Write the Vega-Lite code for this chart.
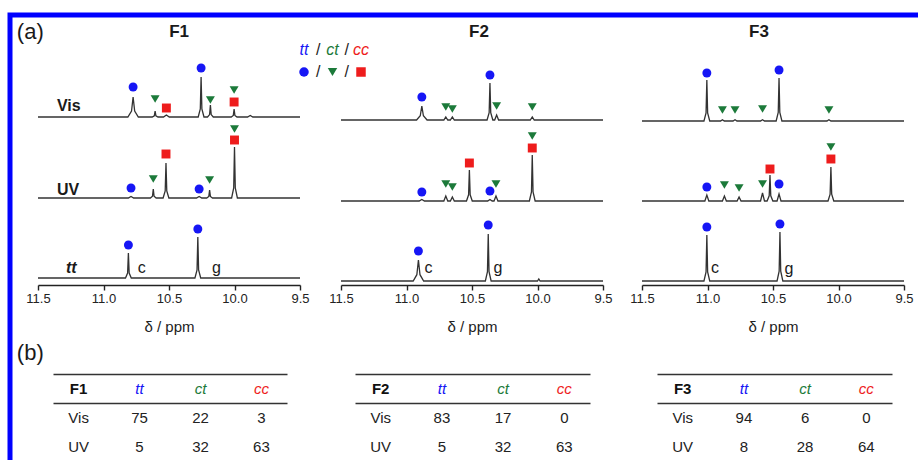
{
"$schema": "https://vega.github.io/schema/vega-lite/v6.json",
"width": 920, "height": 460,
"autosize": {"type": "none"},
"padding": {"left": 10, "top": 15, "right": 0, "bottom": 0},
"background": "white",
"config": {"view": {"stroke": "#0000ff", "strokeWidth": 5}, "font": "Liberation Sans"},
"datasets": {
"s_F1_Vis": [{"x":11.5,"i":0},{"x":10.814,"i":0},{"x":10.786,"i":6},{"x":10.774,"i":20},{"x":10.762,"i":6},{"x":10.734,"i":0},{"x":10.628,"i":0},{"x":10.612,"i":1.2},{"x":10.606,"i":6},{"x":10.6,"i":1.2},{"x":10.584,"i":0},{"x":10.542,"i":0},{"x":10.52,"i":2},{"x":10.498,"i":0},{"x":10.277,"i":0},{"x":10.261,"i":8},{"x":10.255,"i":40},{"x":10.249,"i":8},{"x":10.233,"i":0},{"x":10.206,"i":0},{"x":10.19,"i":2.4},{"x":10.184,"i":12},{"x":10.178,"i":2.4},{"x":10.162,"i":0},{"x":10.025,"i":0},{"x":10.009,"i":1.6},{"x":10.003,"i":8},{"x":9.997,"i":1.6},{"x":9.981,"i":0},{"x":9.9,"i":0},{"x":9.88,"i":1.5},{"x":9.86,"i":0},{"x":9.5,"i":0}],
"m_F1_Vis": [{"x":10.774,"i":30,"s":"tt"},{"x":10.606,"i":18,"s":"ct"},{"x":10.52,"i":9,"s":"cc"},{"x":10.255,"i":49,"s":"tt"},{"x":10.184,"i":17,"s":"ct"},{"x":10.003,"i":27,"s":"ct"},{"x":10.003,"i":15,"s":"cc"}],
"s_F1_UV": [{"x":11.5,"i":0},{"x":10.81,"i":0},{"x":10.79,"i":1.5},{"x":10.77,"i":0},{"x":10.642,"i":0},{"x":10.626,"i":1.8},{"x":10.62,"i":9},{"x":10.614,"i":1.8},{"x":10.598,"i":0},{"x":10.545,"i":0},{"x":10.529,"i":7},{"x":10.523,"i":35},{"x":10.517,"i":7},{"x":10.501,"i":0},{"x":10.29,"i":0},{"x":10.27,"i":1.5},{"x":10.25,"i":0},{"x":10.212,"i":0},{"x":10.196,"i":1.6},{"x":10.19,"i":8},{"x":10.184,"i":1.6},{"x":10.168,"i":0},{"x":10.022,"i":0},{"x":10.006,"i":10},{"x":10.0,"i":51},{"x":9.994,"i":10},{"x":9.978,"i":0},{"x":9.5,"i":0}],
"m_F1_UV": [{"x":10.79,"i":10,"s":"tt"},{"x":10.62,"i":19,"s":"ct"},{"x":10.523,"i":44,"s":"cc"},{"x":10.27,"i":9,"s":"tt"},{"x":10.19,"i":18,"s":"ct"},{"x":10.0,"i":58,"s":"cc"},{"x":10.0,"i":69,"s":"ct"}],
"s_F1_tt": [{"x":11.5,"i":0},{"x":10.832,"i":0},{"x":10.816,"i":5},{"x":10.81,"i":25},{"x":10.804,"i":5},{"x":10.788,"i":0},{"x":10.302,"i":0},{"x":10.286,"i":8},{"x":10.28,"i":41},{"x":10.274,"i":8},{"x":10.258,"i":0},{"x":9.5,"i":0}],
"m_F1_tt": [{"x":10.81,"i":33,"s":"tt"},{"x":10.28,"i":49,"s":"tt"}],
"s_F2_Vis": [{"x":11.5,"i":0},{"x":10.923,"i":0},{"x":10.895,"i":4.2},{"x":10.883,"i":14},{"x":10.871,"i":4.2},{"x":10.843,"i":0},{"x":10.715,"i":0},{"x":10.7,"i":3},{"x":10.685,"i":0},{"x":10.665,"i":0},{"x":10.65,"i":3},{"x":10.635,"i":0},{"x":10.385,"i":0},{"x":10.369,"i":7.4},{"x":10.363,"i":37},{"x":10.357,"i":7.4},{"x":10.341,"i":0},{"x":10.327,"i":0},{"x":10.312,"i":5},{"x":10.297,"i":0},{"x":10.055,"i":0},{"x":10.04,"i":3},{"x":10.025,"i":0},{"x":9.5,"i":0}],
"m_F2_Vis": [{"x":10.883,"i":23,"s":"tt"},{"x":10.7,"i":13,"s":"ct"},{"x":10.65,"i":11,"s":"ct"},{"x":10.363,"i":45,"s":"tt"},{"x":10.312,"i":14,"s":"ct"},{"x":10.04,"i":13,"s":"ct"}],
"s_F2_UV": [{"x":11.5,"i":0},{"x":10.903,"i":0},{"x":10.883,"i":1.5},{"x":10.863,"i":0},{"x":10.715,"i":0},{"x":10.7,"i":5},{"x":10.685,"i":0},{"x":10.665,"i":0},{"x":10.65,"i":4},{"x":10.635,"i":0},{"x":10.542,"i":0},{"x":10.526,"i":6.2},{"x":10.52,"i":31},{"x":10.514,"i":6.2},{"x":10.498,"i":0},{"x":10.38,"i":0},{"x":10.363,"i":1.5},{"x":10.346,"i":0},{"x":10.332,"i":0},{"x":10.317,"i":5},{"x":10.302,"i":0},{"x":10.062,"i":0},{"x":10.046,"i":9.2},{"x":10.04,"i":46},{"x":10.034,"i":9.2},{"x":10.018,"i":0},{"x":9.5,"i":0}],
"m_F2_UV": [{"x":10.883,"i":9,"s":"tt"},{"x":10.7,"i":17,"s":"ct"},{"x":10.65,"i":14,"s":"ct"},{"x":10.52,"i":38,"s":"cc"},{"x":10.363,"i":10,"s":"tt"},{"x":10.317,"i":17,"s":"ct"},{"x":10.04,"i":53,"s":"cc"},{"x":10.04,"i":65,"s":"ct"}],
"s_F2_tt": [{"x":11.5,"i":0},{"x":10.949,"i":0},{"x":10.921,"i":6.3},{"x":10.909,"i":21},{"x":10.897,"i":6.3},{"x":10.869,"i":0},{"x":10.398,"i":0},{"x":10.382,"i":9.4},{"x":10.376,"i":47},{"x":10.37,"i":9.4},{"x":10.354,"i":0},{"x":10.0,"i":0},{"x":9.99,"i":2},{"x":9.98,"i":0},{"x":9.5,"i":0}],
"m_F2_tt": [{"x":10.909,"i":30,"s":"tt"},{"x":10.376,"i":56,"s":"tt"}],
"s_F3_Vis": [{"x":11.5,"i":0},{"x":11.027,"i":0},{"x":11.011,"i":8.2},{"x":11.005,"i":41},{"x":10.999,"i":8.2},{"x":10.983,"i":0},{"x":10.9,"i":0},{"x":10.886,"i":1.2},{"x":10.872,"i":0},{"x":10.805,"i":0},{"x":10.79,"i":1.2},{"x":10.775,"i":0},{"x":10.595,"i":0},{"x":10.58,"i":1.2},{"x":10.565,"i":0},{"x":10.476,"i":0},{"x":10.46,"i":8.6},{"x":10.454,"i":43},{"x":10.448,"i":8.6},{"x":10.432,"i":0},{"x":10.088,"i":0},{"x":10.073,"i":1.2},{"x":10.058,"i":0},{"x":9.5,"i":0}],
"m_F3_Vis": [{"x":11.005,"i":48,"s":"tt"},{"x":10.886,"i":11,"s":"ct"},{"x":10.79,"i":11,"s":"ct"},{"x":10.58,"i":12,"s":"ct"},{"x":10.454,"i":51,"s":"tt"},{"x":10.073,"i":11,"s":"ct"}],
"s_F3_UV": [{"x":11.5,"i":0},{"x":11.02,"i":0},{"x":11.005,"i":6},{"x":10.99,"i":0},{"x":10.886,"i":0},{"x":10.871,"i":5},{"x":10.856,"i":0},{"x":10.774,"i":0},{"x":10.759,"i":4},{"x":10.744,"i":0},{"x":10.595,"i":0},{"x":10.58,"i":8},{"x":10.565,"i":0},{"x":10.545,"i":0},{"x":10.529,"i":5.2},{"x":10.523,"i":26},{"x":10.517,"i":5.2},{"x":10.501,"i":0},{"x":10.469,"i":0},{"x":10.454,"i":7},{"x":10.439,"i":0},{"x":10.08,"i":0},{"x":10.064,"i":6.8},{"x":10.058,"i":34},{"x":10.052,"i":6.8},{"x":10.036,"i":0},{"x":9.5,"i":0}],
"m_F3_UV": [{"x":11.005,"i":14,"s":"tt"},{"x":10.871,"i":16,"s":"ct"},{"x":10.759,"i":13,"s":"ct"},{"x":10.58,"i":17,"s":"ct"},{"x":10.523,"i":32,"s":"cc"},{"x":10.454,"i":17,"s":"tt"},{"x":10.058,"i":42,"s":"cc"},{"x":10.058,"i":54,"s":"ct"}],
"s_F3_tt": [{"x":11.5,"i":0},{"x":11.027,"i":0},{"x":11.011,"i":9.2},{"x":11.005,"i":46},{"x":10.999,"i":9.2},{"x":10.983,"i":0},{"x":10.469,"i":0},{"x":10.453,"i":9.8},{"x":10.447,"i":49},{"x":10.441,"i":9.8},{"x":10.425,"i":0},{"x":9.5,"i":0}],
"m_F3_tt": [{"x":11.005,"i":54,"s":"tt"},{"x":10.447,"i":57,"s":"tt"}],
"lab": [
{"p":"F1","t":"Vis","k":"name","x":11.265,"i":11,"v":"Vis"},
{"p":"F1","t":"Vis","k":"title","x":10.423,"i":85,"v":"F1"},
{"p":"F1","t":"Vis","k":"panel","x":11.559,"i":85,"v":"(a)"},
{"p":"F1","t":"UV","k":"name","x":11.27,"i":8,"v":"UV"},
{"p":"F1","t":"tt","k":"nameit","x":11.246,"i":10,"v":"tt"},
{"p":"F1","t":"tt","k":"peak","x":10.708,"i":10,"v":"c"},
{"p":"F1","t":"tt","k":"peak","x":10.137,"i":10,"v":"g"},
{"p":"F1","t":"tt","k":"panel","x":11.559,"i":-75,"v":"(b)"},
{"p":"F2","t":"Vis","k":"title","x":10.447,"i":88,"v":"F2"},
{"p":"F2","t":"tt","k":"peak","x":10.833,"i":13,"v":"c"},
{"p":"F2","t":"tt","k":"peak","x":10.302,"i":13,"v":"g"},
{"p":"F3","t":"Vis","k":"title","x":10.607,"i":89,"v":"F3"},
{"p":"F3","t":"tt","k":"peak","x":10.942,"i":13,"v":"c"},
{"p":"F3","t":"tt","k":"peak","x":10.378,"i":12,"v":"g"}
],
"legend": [
{"r":"names","k":"tt","s":"tt","v":"tt"},{"r":"names","k":"s1","v":"/"},{"r":"names","k":"ct","s":"ct","v":"ct"},{"r":"names","k":"s2","v":"/"},{"r":"names","k":"cc","s":"cc","v":"cc"},
{"r":"symbols","k":"tt","s":"tt"},{"r":"symbols","k":"s1","v":"/"},{"r":"symbols","k":"ct","s":"ct"},{"r":"symbols","k":"s2","v":"/"},{"r":"symbols","k":"cc","s":"cc"}
],
"table": [
{"p":"F1","r":"header","c":"label","v":"F1"},{"p":"F1","r":"header","c":"tt","v":"tt"},{"p":"F1","r":"header","c":"ct","v":"ct"},{"p":"F1","r":"header","c":"cc","v":"cc"},
{"p":"F1","r":"Vis","c":"label","v":"Vis"},{"p":"F1","r":"Vis","c":"tt","v":75},{"p":"F1","r":"Vis","c":"ct","v":22},{"p":"F1","r":"Vis","c":"cc","v":3},
{"p":"F1","r":"UV","c":"label","v":"UV"},{"p":"F1","r":"UV","c":"tt","v":5},{"p":"F1","r":"UV","c":"ct","v":32},{"p":"F1","r":"UV","c":"cc","v":63},
{"p":"F2","r":"header","c":"label","v":"F2"},{"p":"F2","r":"header","c":"tt","v":"tt"},{"p":"F2","r":"header","c":"ct","v":"ct"},{"p":"F2","r":"header","c":"cc","v":"cc"},
{"p":"F2","r":"Vis","c":"label","v":"Vis"},{"p":"F2","r":"Vis","c":"tt","v":83},{"p":"F2","r":"Vis","c":"ct","v":17},{"p":"F2","r":"Vis","c":"cc","v":0},
{"p":"F2","r":"UV","c":"label","v":"UV"},{"p":"F2","r":"UV","c":"tt","v":5},{"p":"F2","r":"UV","c":"ct","v":32},{"p":"F2","r":"UV","c":"cc","v":63},
{"p":"F3","r":"header","c":"label","v":"F3"},{"p":"F3","r":"header","c":"tt","v":"tt"},{"p":"F3","r":"header","c":"ct","v":"ct"},{"p":"F3","r":"header","c":"cc","v":"cc"},
{"p":"F3","r":"Vis","c":"label","v":"Vis"},{"p":"F3","r":"Vis","c":"tt","v":94},{"p":"F3","r":"Vis","c":"ct","v":6},{"p":"F3","r":"Vis","c":"cc","v":0},
{"p":"F3","r":"UV","c":"label","v":"UV"},{"p":"F3","r":"UV","c":"tt","v":8},{"p":"F3","r":"UV","c":"ct","v":28},{"p":"F3","r":"UV","c":"cc","v":64}
]
},
"resolve": {"scale": {"x": "independent", "y": "independent"}, "axis": {"x": "independent", "y": "independent"}},
"layer": [
{"encoding": {"x": {"field":"x","type":"quantitative","scale":{"domain":[11.5,9.5],"range":[28,290],"nice":false,"zero":false},"axis":null},
  "y": {"field":"i","type":"quantitative","scale":{"domain":[0,100],"range":[102,2],"nice":false,"zero":false},"axis":null}},
 "layer": [
  {"data":{"name":"s_F1_Vis"},"mark":{"type":"line","color":"#333333","strokeWidth":1.3},"encoding":{}},
  {"data":{"name":"m_F1_Vis"},"mark":{"type":"point","filled":true,"opacity":1,"size":80},"encoding":{"color":{"field":"s","type":"nominal","scale":{"domain":["tt","ct","cc"],"range":["#1616f5","#1c7a3a","#ee1c1c"]},"legend":null},"shape":{"field":"s","type":"nominal","scale":{"domain":["tt","ct","cc"],"range":["circle","triangle-down","square"]},"legend":null}}},
  {"data":{"name":"lab"},"transform":[{"filter":"datum.p==='F1'&&datum.t==='Vis'&&datum.k==='name'"}],"mark":{"type":"text","fontWeight":"bold","fontSize":16,"color":"#1a1a1a"},"encoding":{"text":{"field":"v","type":"nominal"}}},
  {"data":{"name":"lab"},"transform":[{"filter":"datum.p==='F1'&&datum.t==='Vis'&&datum.k==='title'"}],"mark":{"type":"text","fontWeight":"bold","fontSize":17,"color":"#1a1a1a"},"encoding":{"text":{"field":"v","type":"nominal"}}},
  {"data":{"name":"lab"},"transform":[{"filter":"datum.p==='F1'&&datum.t==='Vis'&&datum.k==='panel'"}],"mark":{"type":"text","fontSize":22,"color":"#1a1a1a"},"encoding":{"text":{"field":"v","type":"nominal"}}}
 ]},
{"encoding": {"x": {"field":"x","type":"quantitative","scale":{"domain":[11.5,9.5],"range":[28,290],"nice":false,"zero":false},"axis":null},
  "y": {"field":"i","type":"quantitative","scale":{"domain":[0,100],"range":[183,83],"nice":false,"zero":false},"axis":null}},
 "layer": [
  {"data":{"name":"s_F1_UV"},"mark":{"type":"line","color":"#333333","strokeWidth":1.3},"encoding":{}},
  {"data":{"name":"m_F1_UV"},"mark":{"type":"point","filled":true,"opacity":1,"size":80},"encoding":{"color":{"field":"s","type":"nominal","scale":{"domain":["tt","ct","cc"],"range":["#1616f5","#1c7a3a","#ee1c1c"]},"legend":null},"shape":{"field":"s","type":"nominal","scale":{"domain":["tt","ct","cc"],"range":["circle","triangle-down","square"]},"legend":null}}},
  {"data":{"name":"lab"},"transform":[{"filter":"datum.p==='F1'&&datum.t==='UV'&&datum.k==='name'"}],"mark":{"type":"text","fontWeight":"bold","fontSize":16,"color":"#1a1a1a"},"encoding":{"text":{"field":"v","type":"nominal"}}}
 ]},
{"encoding": {"x": {"field":"x","type":"quantitative","scale":{"domain":[11.5,9.5],"range":[28,290],"nice":false,"zero":false},"axis":{"orient":"bottom","offset":-190,"values":[11.5,11,10.5,10,9.5],"format":".1f","title":"δ / ppm","grid":false,"labelFontSize":13,"labelColor":"#222222","labelFlush":false,"labelPadding":2,"tickSize":5,"tickColor":"#222222","tickWidth":1.4,"domainColor":"#222222","domainWidth":1.4,"titleFontSize":15,"titleFontWeight":"normal","titleColor":"#222222","titlePadding":14}},
  "y": {"field":"i","type":"quantitative","scale":{"domain":[0,100],"range":[263,163],"nice":false,"zero":false},"axis":null}},
 "layer": [
  {"data":{"name":"s_F1_tt"},"mark":{"type":"line","color":"#333333","strokeWidth":1.3},"encoding":{}},
  {"data":{"name":"m_F1_tt"},"mark":{"type":"point","filled":true,"opacity":1,"size":80},"encoding":{"color":{"field":"s","type":"nominal","scale":{"domain":["tt","ct","cc"],"range":["#1616f5","#1c7a3a","#ee1c1c"]},"legend":null},"shape":{"field":"s","type":"nominal","scale":{"domain":["tt","ct","cc"],"range":["circle","triangle-down","square"]},"legend":null}}},
  {"data":{"name":"lab"},"transform":[{"filter":"datum.p==='F1'&&datum.t==='tt'&&datum.k==='nameit'"}],"mark":{"type":"text","fontWeight":"bold","fontStyle":"italic","fontSize":16,"color":"#1a1a1a"},"encoding":{"text":{"field":"v","type":"nominal"}}},
  {"data":{"name":"lab"},"transform":[{"filter":"datum.p==='F1'&&datum.t==='tt'&&datum.k==='peak'"}],"mark":{"type":"text","fontSize":16,"color":"#1a1a1a"},"encoding":{"text":{"field":"v","type":"nominal"}}},
  {"data":{"name":"lab"},"transform":[{"filter":"datum.p==='F1'&&datum.t==='tt'&&datum.k==='panel'"}],"mark":{"type":"text","fontSize":22,"color":"#1a1a1a"},"encoding":{"text":{"field":"v","type":"nominal"}}}
 ]},
{"encoding": {"x": {"field":"x","type":"quantitative","scale":{"domain":[11.5,9.5],"range":[331,593],"nice":false,"zero":false},"axis":null},
  "y": {"field":"i","type":"quantitative","scale":{"domain":[0,100],"range":[105,5],"nice":false,"zero":false},"axis":null}},
 "layer": [
  {"data":{"name":"s_F2_Vis"},"mark":{"type":"line","color":"#333333","strokeWidth":1.3},"encoding":{}},
  {"data":{"name":"m_F2_Vis"},"mark":{"type":"point","filled":true,"opacity":1,"size":80},"encoding":{"color":{"field":"s","type":"nominal","scale":{"domain":["tt","ct","cc"],"range":["#1616f5","#1c7a3a","#ee1c1c"]},"legend":null},"shape":{"field":"s","type":"nominal","scale":{"domain":["tt","ct","cc"],"range":["circle","triangle-down","square"]},"legend":null}}},
  {"data":{"name":"lab"},"transform":[{"filter":"datum.p==='F2'&&datum.t==='Vis'&&datum.k==='title'"}],"mark":{"type":"text","fontWeight":"bold","fontSize":17,"color":"#1a1a1a"},"encoding":{"text":{"field":"v","type":"nominal"}}}
 ]},
{"encoding": {"x": {"field":"x","type":"quantitative","scale":{"domain":[11.5,9.5],"range":[331,593],"nice":false,"zero":false},"axis":null},
  "y": {"field":"i","type":"quantitative","scale":{"domain":[0,100],"range":[186,86],"nice":false,"zero":false},"axis":null}},
 "layer": [
  {"data":{"name":"s_F2_UV"},"mark":{"type":"line","color":"#333333","strokeWidth":1.3},"encoding":{}},
  {"data":{"name":"m_F2_UV"},"mark":{"type":"point","filled":true,"opacity":1,"size":80},"encoding":{"color":{"field":"s","type":"nominal","scale":{"domain":["tt","ct","cc"],"range":["#1616f5","#1c7a3a","#ee1c1c"]},"legend":null},"shape":{"field":"s","type":"nominal","scale":{"domain":["tt","ct","cc"],"range":["circle","triangle-down","square"]},"legend":null}}}
 ]},
{"encoding": {"x": {"field":"x","type":"quantitative","scale":{"domain":[11.5,9.5],"range":[331,593],"nice":false,"zero":false},"axis":{"orient":"bottom","offset":-190,"values":[11.5,11,10.5,10,9.5],"format":".1f","title":"δ / ppm","grid":false,"labelFontSize":13,"labelColor":"#222222","labelFlush":false,"labelPadding":2,"tickSize":5,"tickColor":"#222222","tickWidth":1.4,"domainColor":"#222222","domainWidth":1.4,"titleFontSize":15,"titleFontWeight":"normal","titleColor":"#222222","titlePadding":14}},
  "y": {"field":"i","type":"quantitative","scale":{"domain":[0,100],"range":[266,166],"nice":false,"zero":false},"axis":null}},
 "layer": [
  {"data":{"name":"s_F2_tt"},"mark":{"type":"line","color":"#333333","strokeWidth":1.3},"encoding":{}},
  {"data":{"name":"m_F2_tt"},"mark":{"type":"point","filled":true,"opacity":1,"size":80},"encoding":{"color":{"field":"s","type":"nominal","scale":{"domain":["tt","ct","cc"],"range":["#1616f5","#1c7a3a","#ee1c1c"]},"legend":null},"shape":{"field":"s","type":"nominal","scale":{"domain":["tt","ct","cc"],"range":["circle","triangle-down","square"]},"legend":null}}},
  {"data":{"name":"lab"},"transform":[{"filter":"datum.p==='F2'&&datum.t==='tt'&&datum.k==='peak'"}],"mark":{"type":"text","fontSize":16,"color":"#1a1a1a"},"encoding":{"text":{"field":"v","type":"nominal"}}}
 ]},
{"encoding": {"x": {"field":"x","type":"quantitative","scale":{"domain":[11.5,9.5],"range":[632,894],"nice":false,"zero":false},"axis":null},
  "y": {"field":"i","type":"quantitative","scale":{"domain":[0,100],"range":[106,6],"nice":false,"zero":false},"axis":null}},
 "layer": [
  {"data":{"name":"s_F3_Vis"},"mark":{"type":"line","color":"#333333","strokeWidth":1.3},"encoding":{}},
  {"data":{"name":"m_F3_Vis"},"mark":{"type":"point","filled":true,"opacity":1,"size":80},"encoding":{"color":{"field":"s","type":"nominal","scale":{"domain":["tt","ct","cc"],"range":["#1616f5","#1c7a3a","#ee1c1c"]},"legend":null},"shape":{"field":"s","type":"nominal","scale":{"domain":["tt","ct","cc"],"range":["circle","triangle-down","square"]},"legend":null}}},
  {"data":{"name":"lab"},"transform":[{"filter":"datum.p==='F3'&&datum.t==='Vis'&&datum.k==='title'"}],"mark":{"type":"text","fontWeight":"bold","fontSize":17,"color":"#1a1a1a"},"encoding":{"text":{"field":"v","type":"nominal"}}}
 ]},
{"encoding": {"x": {"field":"x","type":"quantitative","scale":{"domain":[11.5,9.5],"range":[632,894],"nice":false,"zero":false},"axis":null},
  "y": {"field":"i","type":"quantitative","scale":{"domain":[0,100],"range":[186,86],"nice":false,"zero":false},"axis":null}},
 "layer": [
  {"data":{"name":"s_F3_UV"},"mark":{"type":"line","color":"#333333","strokeWidth":1.3},"encoding":{}},
  {"data":{"name":"m_F3_UV"},"mark":{"type":"point","filled":true,"opacity":1,"size":80},"encoding":{"color":{"field":"s","type":"nominal","scale":{"domain":["tt","ct","cc"],"range":["#1616f5","#1c7a3a","#ee1c1c"]},"legend":null},"shape":{"field":"s","type":"nominal","scale":{"domain":["tt","ct","cc"],"range":["circle","triangle-down","square"]},"legend":null}}}
 ]},
{"encoding": {"x": {"field":"x","type":"quantitative","scale":{"domain":[11.5,9.5],"range":[632,894],"nice":false,"zero":false},"axis":{"orient":"bottom","offset":-190,"values":[11.5,11,10.5,10,9.5],"format":".1f","title":"δ / ppm","grid":false,"labelFontSize":13,"labelColor":"#222222","labelFlush":false,"labelPadding":2,"tickSize":5,"tickColor":"#222222","tickWidth":1.4,"domainColor":"#222222","domainWidth":1.4,"titleFontSize":15,"titleFontWeight":"normal","titleColor":"#222222","titlePadding":14}},
  "y": {"field":"i","type":"quantitative","scale":{"domain":[0,100],"range":[266,166],"nice":false,"zero":false},"axis":null}},
 "layer": [
  {"data":{"name":"s_F3_tt"},"mark":{"type":"line","color":"#333333","strokeWidth":1.3},"encoding":{}},
  {"data":{"name":"m_F3_tt"},"mark":{"type":"point","filled":true,"opacity":1,"size":80},"encoding":{"color":{"field":"s","type":"nominal","scale":{"domain":["tt","ct","cc"],"range":["#1616f5","#1c7a3a","#ee1c1c"]},"legend":null},"shape":{"field":"s","type":"nominal","scale":{"domain":["tt","ct","cc"],"range":["circle","triangle-down","square"]},"legend":null}}},
  {"data":{"name":"lab"},"transform":[{"filter":"datum.p==='F3'&&datum.t==='tt'&&datum.k==='peak'"}],"mark":{"type":"text","fontSize":16,"color":"#1a1a1a"},"encoding":{"text":{"field":"v","type":"nominal"}}}
 ]},
{"data": {"name":"legend"},
 "encoding": {"x": {"field":"k","type":"nominal","scale":{"type":"point","domain":["tt","s1","ct","s2","cc"],"range":[294,351],"padding":0},"axis":null},
  "y": {"field":"r","type":"nominal","scale":{"type":"point","domain":["names","symbols"],"range":[35,57],"padding":0},"axis":null}},
 "layer": [
  {"transform":[{"filter":"datum.r==='names'&&datum.s"}],"mark":{"type":"text","fontStyle":"italic","fontSize":16},"encoding":{"text":{"field":"v","type":"nominal"},"color":{"field":"s","type":"nominal","scale":{"domain":["tt","ct","cc"],"range":["#1616f5","#1c7a3a","#ee1c1c"]},"legend":null}}},
  {"transform":[{"filter":"datum.v==='/'"}],"mark":{"type":"text","fontSize":16,"color":"#222222"},"encoding":{"text":{"field":"v","type":"nominal"}}},
  {"transform":[{"filter":"datum.r==='symbols'&&datum.s"}],"mark":{"type":"point","filled":true,"opacity":1,"size":90},"encoding":{"color":{"field":"s","type":"nominal","scale":{"domain":["tt","ct","cc"],"range":["#1616f5","#1c7a3a","#ee1c1c"]},"legend":null},"shape":{"field":"s","type":"nominal","scale":{"domain":["tt","ct","cc"],"range":["circle","triangle-down","square"]},"legend":null}}}
 ]},
{"data": {"name":"table"}, "transform": [{"filter":"datum.p==='F1'"}],
 "encoding": {"y": {"field":"r","type":"nominal","scale":{"type":"band","domain":["header","Vis","UV"],"range":[359,447],"paddingInner":0,"paddingOuter":0},"axis":null}},
 "resolve": {"scale": {"x": "independent"}, "axis": {"x": "independent"}},
 "layer": [
  {"transform":[{"filter":"datum.r==='header'&&datum.c==='label'"}],"mark":{"type":"text","fontWeight":"bold","fontSize":15,"color":"#111111"},"encoding":{"x":{"field":"c","type":"nominal","scale":{"type":"point","domain":["label","tt","ct","cc"],"range":[43,277],"padding":0.42},"axis":{"orient":"top","offset":-359,"domain":true,"domainColor":"#333333","domainWidth":1.5,"ticks":false,"labels":false,"title":null,"grid":false}},"text":{"field":"v","type":"nominal"}}},
  {"transform":[{"filter":"datum.r==='header'&&datum.c!=='label'"}],"mark":{"type":"text","fontStyle":"italic","fontSize":15},"encoding":{"x":{"field":"c","type":"nominal","scale":{"type":"point","domain":["label","tt","ct","cc"],"range":[43,277],"padding":0.42},"axis":{"orient":"top","offset":-388,"domain":true,"domainColor":"#333333","domainWidth":1.5,"ticks":false,"labels":false,"title":null,"grid":false}},"text":{"field":"v","type":"nominal"},"color":{"field":"c","type":"nominal","scale":{"domain":["tt","ct","cc"],"range":["#1616f5","#1c7a3a","#ee1c1c"]},"legend":null}}},
  {"transform":[{"filter":"datum.r!=='header'"}],"mark":{"type":"text","fontSize":15,"color":"#222222"},"encoding":{"x":{"field":"c","type":"nominal","scale":{"type":"point","domain":["label","tt","ct","cc"],"range":[43,277],"padding":0.42},"axis":null},"text":{"field":"v","type":"nominal"}}}
 ]},
{"data": {"name":"table"}, "transform": [{"filter":"datum.p==='F2'"}],
 "encoding": {"y": {"field":"r","type":"nominal","scale":{"type":"band","domain":["header","Vis","UV"],"range":[359,447],"paddingInner":0,"paddingOuter":0},"axis":null}},
 "resolve": {"scale": {"x": "independent"}, "axis": {"x": "independent"}},
 "layer": [
  {"transform":[{"filter":"datum.r==='header'&&datum.c==='label'"}],"mark":{"type":"text","fontWeight":"bold","fontSize":15,"color":"#111111"},"encoding":{"x":{"field":"c","type":"nominal","scale":{"type":"point","domain":["label","tt","ct","cc"],"range":[345,580],"padding":0.42},"axis":{"orient":"top","offset":-359,"domain":true,"domainColor":"#333333","domainWidth":1.5,"ticks":false,"labels":false,"title":null,"grid":false}},"text":{"field":"v","type":"nominal"}}},
  {"transform":[{"filter":"datum.r==='header'&&datum.c!=='label'"}],"mark":{"type":"text","fontStyle":"italic","fontSize":15},"encoding":{"x":{"field":"c","type":"nominal","scale":{"type":"point","domain":["label","tt","ct","cc"],"range":[345,580],"padding":0.42},"axis":{"orient":"top","offset":-388,"domain":true,"domainColor":"#333333","domainWidth":1.5,"ticks":false,"labels":false,"title":null,"grid":false}},"text":{"field":"v","type":"nominal"},"color":{"field":"c","type":"nominal","scale":{"domain":["tt","ct","cc"],"range":["#1616f5","#1c7a3a","#ee1c1c"]},"legend":null}}},
  {"transform":[{"filter":"datum.r!=='header'"}],"mark":{"type":"text","fontSize":15,"color":"#222222"},"encoding":{"x":{"field":"c","type":"nominal","scale":{"type":"point","domain":["label","tt","ct","cc"],"range":[345,580],"padding":0.42},"axis":null},"text":{"field":"v","type":"nominal"}}}
 ]},
{"data": {"name":"table"}, "transform": [{"filter":"datum.p==='F3'"}],
 "encoding": {"y": {"field":"r","type":"nominal","scale":{"type":"band","domain":["header","Vis","UV"],"range":[359,447],"paddingInner":0,"paddingOuter":0},"axis":null}},
 "resolve": {"scale": {"x": "independent"}, "axis": {"x": "independent"}},
 "layer": [
  {"transform":[{"filter":"datum.r==='header'&&datum.c==='label'"}],"mark":{"type":"text","fontWeight":"bold","fontSize":15,"color":"#111111"},"encoding":{"x":{"field":"c","type":"nominal","scale":{"type":"point","domain":["label","tt","ct","cc"],"range":[647,882],"padding":0.42},"axis":{"orient":"top","offset":-359,"domain":true,"domainColor":"#333333","domainWidth":1.5,"ticks":false,"labels":false,"title":null,"grid":false}},"text":{"field":"v","type":"nominal"}}},
  {"transform":[{"filter":"datum.r==='header'&&datum.c!=='label'"}],"mark":{"type":"text","fontStyle":"italic","fontSize":15},"encoding":{"x":{"field":"c","type":"nominal","scale":{"type":"point","domain":["label","tt","ct","cc"],"range":[647,882],"padding":0.42},"axis":{"orient":"top","offset":-388,"domain":true,"domainColor":"#333333","domainWidth":1.5,"ticks":false,"labels":false,"title":null,"grid":false}},"text":{"field":"v","type":"nominal"},"color":{"field":"c","type":"nominal","scale":{"domain":["tt","ct","cc"],"range":["#1616f5","#1c7a3a","#ee1c1c"]},"legend":null}}},
  {"transform":[{"filter":"datum.r!=='header'"}],"mark":{"type":"text","fontSize":15,"color":"#222222"},"encoding":{"x":{"field":"c","type":"nominal","scale":{"type":"point","domain":["label","tt","ct","cc"],"range":[647,882],"padding":0.42},"axis":null},"text":{"field":"v","type":"nominal"}}}
 ]}
]
}
